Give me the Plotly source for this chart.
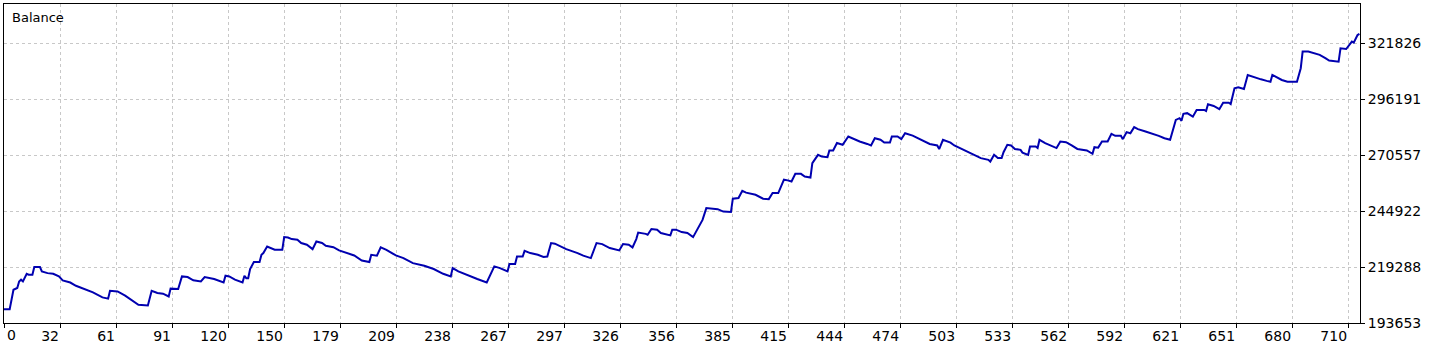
import plotly.graph_objects as go

# Trade index and balance values
trade_idx = [0, 3, 5, 7, 8, 9, 10, 12, 13, 15, 16, 19, 20, 23, 26, 29, 31, 35, 38, 43,
             47, 52, 55, 56, 60, 64, 68, 71, 76, 78, 81, 84, 87, 88, 92, 94, 97, 100, 104, 106,
             111, 114, 116, 117, 119, 122, 125, 126, 127, 128, 129, 130, 132, 135, 136, 137, 139, 141, 143, 147,
             148, 150, 152, 155, 157, 160, 163, 165, 168, 170, 174, 177, 182, 185, 189, 193, 194, 197, 199, 202,
             207, 211, 216, 222, 227, 232, 236, 237, 240, 244, 250, 255, 257, 259, 262, 266, 267, 270, 271, 274,
             275, 278, 282, 285, 287, 289, 291, 297, 303, 306, 310, 313, 316, 320, 325, 327, 330, 332, 334, 335,
             339, 340, 342, 345, 347, 352, 353, 355, 358, 361, 364, 366, 369, 371, 375, 377, 380, 384, 385, 388,
             390, 392, 397, 401, 404, 406, 409, 412, 414, 416, 418, 421, 423, 426, 427, 430, 432, 435, 436, 438,
             440, 443, 446, 449, 452, 456, 458, 460, 463, 465, 468, 469, 472, 474, 476, 480, 486, 489, 493, 494,
             496, 500, 502, 506, 509, 513, 516, 520, 521, 523, 525, 527, 528, 530, 532, 534, 537, 538, 541, 542,
             545, 546, 547, 550, 553, 556, 558, 561, 564, 567, 572, 575, 576, 578, 580, 583, 585, 587, 590, 591,
             593, 595, 597, 599, 603, 606, 610, 613, 616, 619, 621, 622, 623, 625, 628, 630, 634, 635, 636, 639,
             642, 644, 647, 648, 650, 652, 655, 657, 660, 664, 667, 669, 670, 672, 675, 678, 683, 685, 686, 689,
             693, 695, 698, 700, 705, 706, 709, 712, 713, 715, 716]

balance = [200000, 200000, 208900, 209700, 212700, 213500, 212700, 216200, 215800, 215800,
           219300, 219300, 217300, 216500, 216200, 215000, 213200, 212200, 210700, 208900,
           207700, 205400, 204800, 208400, 208100, 206200, 204000, 202000, 201700, 208400,
           207400, 207100, 205800, 209400, 209200, 215000, 214700, 213200, 212700, 214700,
           213800, 212700, 212200, 215300, 215000, 213500, 212700, 212200, 215300, 214200,
           214200, 218400, 221600, 221600, 224900, 225700, 228700, 228000, 227200, 227200,
           233000, 232800, 232100, 231800, 230300, 229500, 227500, 231000, 230300, 229000,
           228400, 226900, 225400, 224600, 222300, 221600, 224900, 224500, 228300, 227200,
           224600, 223400, 221100, 219900, 218400, 216200, 215000, 218800, 217300, 215800,
           213800, 212200, 215800, 219600, 218800, 217300, 220700, 220700, 224100, 224100,
           226700, 225700, 224900, 223900, 224100, 230300, 230000, 227500, 225700, 224500,
           223400, 230300, 229800, 228000, 226900, 229800, 229500, 228300, 232100, 235100,
           234500, 234100, 236700, 236400, 234900, 233800, 236400, 236400, 235300, 234900,
           233000, 236400, 240900, 246300, 246000, 245800, 244700, 244500, 250600, 250900,
           254200, 253400, 252400, 250600, 250400, 253200, 253200, 259300, 259000, 258500,
           262000, 262000, 260800, 260300, 266900, 270700, 269900, 269600, 272700, 272700,
           276100, 275300, 279100, 277900, 276800, 275700, 275000, 278300, 277600, 276300,
           276300, 279100, 279100, 277900, 280600, 279500, 276800, 275700, 275000, 273300,
           277600, 276300, 275000, 273300, 272200, 270700, 269200, 268400, 267600, 270700,
           269200, 269200, 271900, 275300, 275000, 273400, 273000, 271700, 270700, 274500,
           274500, 273800, 277600, 276100, 275000, 273800, 276800, 276500, 275000, 273400,
           272700, 271200, 274200, 274000, 276800, 276800, 280300, 279400, 279400, 277900,
           281100, 280600, 283400, 282500, 281400, 280600, 279400, 278300, 277600, 286700,
           287500, 286300, 289500, 289800, 288200, 291300, 291300, 290800, 293900, 293100,
           291600, 294600, 294600, 294000, 301200, 301700, 300900, 307300, 306300, 305300,
           304600, 304200, 307300, 306300, 305000, 304200, 304200, 310400, 318000, 318000,
           316900, 316500, 315000, 313900, 313400, 319500, 319200, 322600, 322100, 325600,
           326100]

# Axis ticks
x_tick_labels = ["0", "32", "61", "91", "120", "150", "179", "209", "238", "267", "297", "326",
                 "356", "385", "415", "444", "474", "503", "533", "562", "592", "621", "651",
                 "680", "710"]
y_tick_values = [193653, 219288, 244922, 270557, 296191, 321826]

X_STEP = 710 / 24.0
x_tick_positions = [i * X_STEP for i in range(len(x_tick_labels))]
X_MAX = 716.3
Y_MIN, Y_MAX = 193653, 339816

FONT = "DejaVu Sans"
GRID = "#c8c8c8"

fig = go.Figure()
fig.add_trace(go.Scatter(
    x=trade_idx, y=balance, mode="lines",
    line=dict(color="#0000b0", width=2),
    hoverinfo="skip", showlegend=False,
))

fig.update_layout(
    width=1435, height=350,
    margin=dict(l=4, r=75, t=4, b=27, pad=0),
    paper_bgcolor="white", plot_bgcolor="white",
    showlegend=False,
    font=dict(family=FONT, size=14, color="black"),
    xaxis=dict(
        range=[0, X_MAX],
        tickmode="array",
        tickvals=x_tick_positions,
        ticktext=[""] + x_tick_labels[1:],
        ticklabelposition="outside left",
        ticks="outside", ticklen=4, tickcolor="black", tickwidth=1,
        showgrid=True, gridcolor=GRID, gridwidth=1, griddash="3px,3px",
        showline=True, linecolor="black", linewidth=1, mirror=True,
        zeroline=False,
        tickfont=dict(family=FONT, size=14, color="black"),
        fixedrange=True,
    ),
    yaxis=dict(
        range=[Y_MIN, Y_MAX],
        side="right",
        tickmode="array",
        tickvals=y_tick_values,
        ticktext=[str(v) for v in y_tick_values],
        ticks="outside", ticklen=4, tickcolor="black", tickwidth=1,
        showgrid=True, gridcolor=GRID, gridwidth=1, griddash="3px,3px",
        showline=True, linecolor="black", linewidth=1, mirror=True,
        zeroline=False,
        tickfont=dict(family=FONT, size=14, color="black"),
        fixedrange=True,
    ),
    annotations=[
        dict(text="Balance", xref="paper", yref="paper", x=0, y=1,
             xanchor="left", yanchor="top", xshift=6, yshift=-4,
             showarrow=False, font=dict(family=FONT, size=13, color="black")),
        dict(text=x_tick_labels[0], xref="x", yref="paper", x=0, y=0,
             xanchor="left", yanchor="top", xshift=1, yshift=-2,
             showarrow=False, font=dict(family=FONT, size=14, color="black")),
    ],
)

fig.write_html("out.html", config={"displayModeBar": False})
